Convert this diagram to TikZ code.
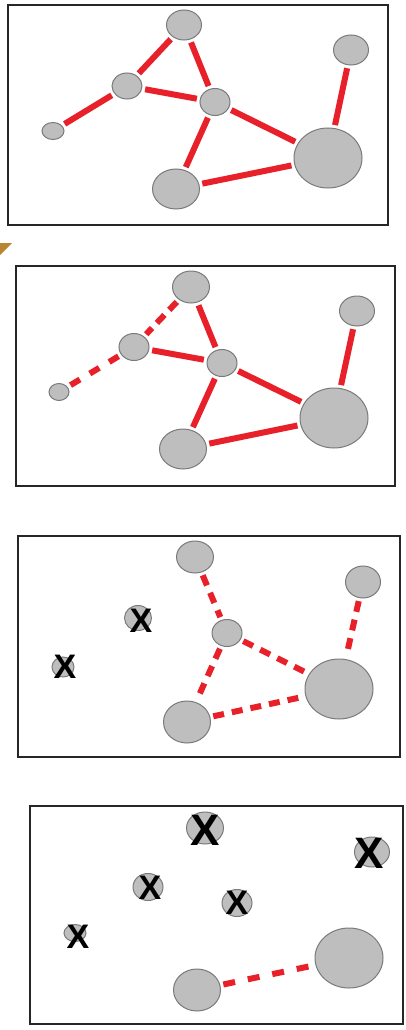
\documentclass[tikz,border=0pt]{standalone}
\usepackage{fontspec}
\setmainfont{Liberation Sans}
\usetikzlibrary{shapes.geometric}
\definecolor{blobfill}{HTML}{BEBEBE}
\definecolor{blobline}{HTML}{7A7A7A}
\definecolor{linkred}{HTML}{E8202A}
\definecolor{cornerbrown}{HTML}{B8862F}
\tikzset{
  blob/.style={ellipse, fill=blobfill, draw=blobline, line width=1pt, inner sep=0pt},
  frame/.style={draw=black!85, line width=2.2pt},
  link/.style={draw=linkred, line width=6pt, shorten <=3pt, shorten >=3pt},
  brokenlink/.style={link, dash pattern=on 11pt off 7pt},
  weaklink/.style={link, dash pattern=on 11pt off 8pt},
  xmark/.style={inner sep=0pt, text=black, font=\fontsize{34}{34}\selectfont\bfseries},
  bigxmark/.style={xmark, font=\fontsize{44}{44}\selectfont\bfseries}
}
\begin{document}
\begin{tikzpicture}[x=1pt,y=-1pt]
\useasboundingbox (0,0) rectangle (405,1030);
\fill[white] (0,0) rectangle (405,1030);
\fill[cornerbrown] (0,243) -- (12,243) -- (0,255) -- cycle;

% ---------- panel 1 ----------
\draw[frame] (8,5) rectangle (388,225);
\node[blob, minimum width=35pt, minimum height=30pt] (a1) at (184,25) {};
\node[blob, minimum width=30pt, minimum height=26pt] (b1) at (127,86) {};
\node[blob, minimum width=22pt, minimum height=17pt] (c1) at (53,131) {};
\node[blob, minimum width=30pt, minimum height=27pt] (d1) at (215,102) {};
\node[blob, minimum width=47pt, minimum height=40pt] (e1) at (176,189) {};
\node[blob, minimum width=68pt, minimum height=60pt] (f1) at (328,158) {};
\node[blob, minimum width=35pt, minimum height=30pt] (g1) at (351,50) {};
\draw[link] (a1) -- (b1);
\draw[link] (a1) -- (d1);
\draw[link] (b1) -- (d1);
\draw[link] (b1) -- (c1);
\draw[link] (d1) -- (e1);
\draw[link] (d1) -- (f1);
\draw[link] (e1) -- (f1);
\draw[link] (g1) -- (f1);

% ---------- panel 2 ----------
\draw[frame] (16,266) rectangle (395,486);
\node[blob, minimum width=37pt, minimum height=32pt] (a2) at (191,287) {};
\node[blob, minimum width=30pt, minimum height=27pt] (b2) at (134,347) {};
\node[blob, minimum width=20pt, minimum height=17pt] (c2) at (59,392) {};
\node[blob, minimum width=30pt, minimum height=27pt] (d2) at (222,363) {};
\node[blob, minimum width=47pt, minimum height=40pt] (e2) at (183,449) {};
\node[blob, minimum width=68pt, minimum height=60pt] (f2) at (334,418) {};
\node[blob, minimum width=35pt, minimum height=30pt] (g2) at (357,311) {};
\draw[brokenlink] (a2) -- (b2);
\draw[brokenlink, dash pattern=on 11pt off 11.5pt] (b2) -- (c2);
\draw[link] (a2) -- (d2);
\draw[link] (b2) -- (d2);
\draw[link] (d2) -- (e2);
\draw[link] (d2) -- (f2);
\draw[link] (e2) -- (f2);
\draw[link] (g2) -- (f2);

% ---------- panel 3 ----------
\draw[frame] (18,536) rectangle (400,757);
\node[blob, minimum width=37pt, minimum height=32pt] (a3) at (195,557) {};
\node[blob, minimum width=27pt, minimum height=25pt] (b3) at (138,618) {};
\node[blob, minimum width=22pt, minimum height=20pt] (c3) at (63,667) {};
\node[blob, minimum width=30pt, minimum height=27pt] (d3) at (227,633) {};
\node[blob, minimum width=47pt, minimum height=42pt] (e3) at (187,722) {};
\node[blob, minimum width=68pt, minimum height=60pt] (f3) at (339,689) {};
\node[blob, minimum width=35pt, minimum height=32pt] (g3) at (363,582) {};
\node[xmark] (xb3) at (141,621) {X};
\node[xmark] (xc3) at (65,667) {X};
\draw[weaklink] (a3) -- (d3);
\draw[weaklink] (d3) -- (e3);
\draw[weaklink] (d3) -- (f3);
\draw[weaklink] (e3) -- (f3);
\draw[weaklink] (g3) -- (f3);

% ---------- panel 4 ----------
\draw[frame] (30,806) rectangle (403,1024);
\node[blob, minimum width=37pt, minimum height=32pt] (a4) at (205,828) {};
\node[blob, minimum width=30pt, minimum height=27pt] (b4) at (148,887) {};
\node[blob, minimum width=22pt, minimum height=17pt] (c4) at (75,933) {};
\node[blob, minimum width=30pt, minimum height=27pt] (d4) at (237,903) {};
\node[blob, minimum width=47pt, minimum height=42pt] (e4) at (197,990) {};
\node[blob, minimum width=68pt, minimum height=60pt] (f4) at (349,958) {};
\node[blob, minimum width=35pt, minimum height=30pt] (g4) at (372,852) {};
\node[bigxmark] (xa4) at (205,830) {X};
\node[bigxmark] (xg4) at (369,853) {X};
\node[xmark] (xb4) at (150,888) {X};
\node[xmark] (xd4) at (237,903) {X};
\node[xmark] (xc4) at (78,937) {X};
\draw[weaklink, dash pattern=on 12pt off 13pt] (e4) -- (f4);
\end{tikzpicture}
\end{document}
